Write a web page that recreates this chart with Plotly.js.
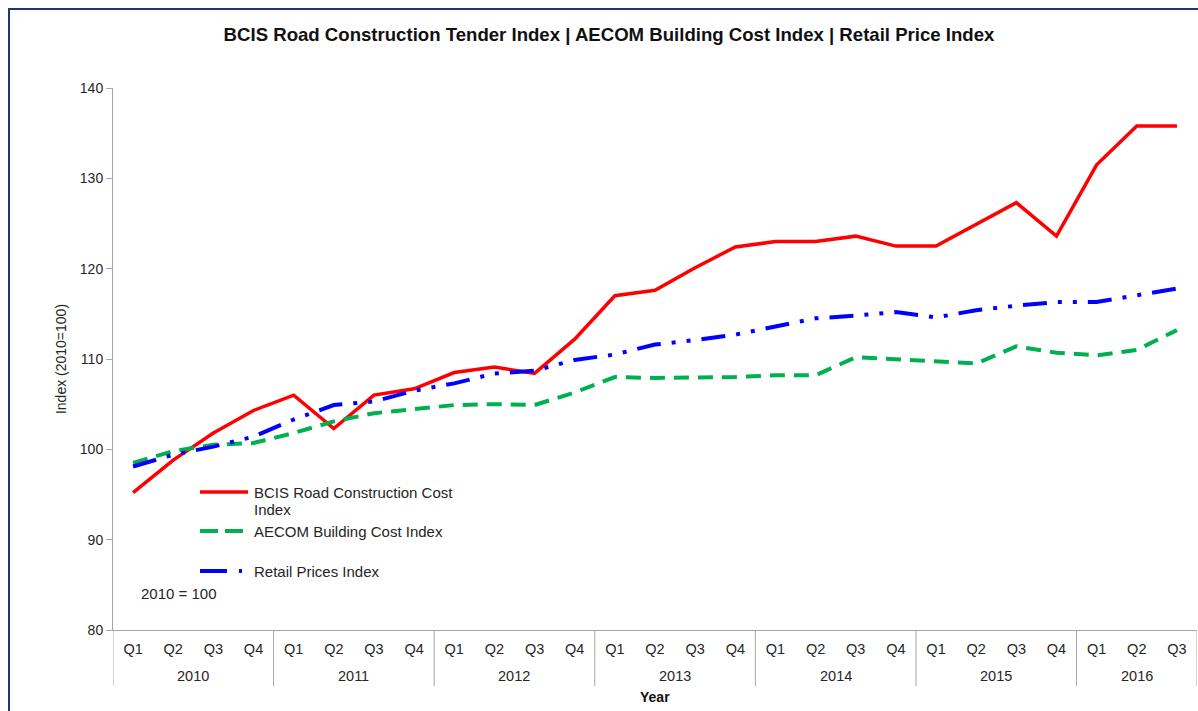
<!DOCTYPE html>
<html>
<head>
<meta charset="utf-8">
<script src="https://cdn.plot.ly/plotly-3.0.1.min.js"></script>
<style>
  html, body { margin: 0; padding: 0; background: #fff; }
  #chart { width: 1198px; height: 711px; }
</style>
</head>
<body>
<div id="chart"></div>
<script>
// ---- Data ----
const years = ['2010','2011','2012','2013','2014','2015','2016'];
const quarters = ['Q1','Q2','Q3','Q4'];
const quartersPerYear = [4, 4, 4, 4, 4, 4, 3]; // 2016 has Q1..Q3

const bcisRoad = [95.2, 98.8, 101.8, 104.3, 106.0, 102.3, 106.0, 106.7, 108.5, 109.1, 108.4, 112.2,
                  117.0, 117.6, 120.1, 122.4, 123.0, 123.0, 123.6, 122.5, 122.5, 124.9, 127.3, 123.6,
                  131.5, 135.8, 135.8];
const aecomBuilding = [98.5, 99.8, 100.5, 100.7, 101.8, 103.1, 104.0, 104.4, 104.9, 105.0, 104.9, 106.3,
                       108.0, 107.9, 107.9, 108.0, 108.2, 108.2, 110.2, 110.0, 109.8, 109.5, 111.4, 110.7,
                       110.4, 111.0, 113.2];
const retailPrices = [98.1, 99.4, 100.3, 101.4, 103.3, 104.9, 105.3, 106.5, 107.3, 108.4, 108.7, 109.9,
                      110.5, 111.6, 112.1, 112.7, 113.6, 114.5, 114.8, 115.2, 114.6, 115.4, 115.9, 116.3,
                      116.3, 117.1, 117.8];

const seriesNames = ['BCIS Road Construction Cost Index', 'AECOM Building Cost Index', 'Retail Prices Index'];
const legendLabels = ['BCIS Road Construction Cost<br>Index', 'AECOM Building Cost Index', 'Retail Prices Index'];
const titleText = 'BCIS Road Construction Tender Index | AECOM Building Cost Index | Retail Price Index';
const yTitle = 'Index (2010=100)';
const xTitle = 'Year';
const noteText = '2010 = 100';

// ---- Build category x (unique keys, quarter tick text) ----
const xKeys = [], xQuarter = [], groupStart = [];
years.forEach((y, i) => {
  groupStart.push(xKeys.length);
  for (let q = 0; q < quartersPerYear[i]; q++) { xKeys.push(y + ' ' + quarters[q]); xQuarter.push(quarters[q]); }
});
groupStart.push(xKeys.length);

const FONT = 'Arial, "Liberation Sans", sans-serif';
const TXT = '#262626';
const AX = '#A6A6A6';
const colors = ['#FF0000', '#00B050', '#0000FF'];
const dashes = ['solid', '15px,9px', '24px,11px,4px,11px,4px,11px'];
const legendDashes = ['solid', '18px,7px', '27px,12px,3px,20px'];
const widths = [3.5, 4, 4];
const values = [bcisRoad, aecomBuilding, retailPrices];

const traces = values.map((v, i) => ({
  type: 'scatter', mode: 'lines',
  x: xKeys, y: v,
  name: seriesNames[i],
  line: { color: colors[i], width: widths[i], dash: dashes[i] },
  showlegend: false,
  hoverinfo: 'skip'
}));

// ---- Geometry helpers (pixel -> paper) ----
const W = 1198, H = 711;
const M = { l: 113, r: 1, t: 88, b: 81 };
const PW = W - M.l - M.r, PH = H - M.t - M.b;
const px = x => (x - M.l) / PW;
const py = y => (H - M.b - y) / PH;

const shapes = [];
const annotations = [];

// Year group labels and dividers
years.forEach((y, i) => {
  annotations.push({
    xref: 'x', yref: 'paper', x: (groupStart[i] + groupStart[i + 1] - 1) / 2, y: py(676),
    xanchor: 'center', yanchor: 'middle', showarrow: false,
    text: y, font: { family: FONT, size: 14.5, color: TXT }
  });
});
groupStart.forEach(g => {
  shapes.push({
    type: 'line', xref: 'x', yref: 'paper',
    x0: g - 0.5, x1: g - 0.5, y0: 0, y1: py(686),
    line: { color: AX, width: 1 }
  });
});
// x axis title
annotations.push({
  xref: 'paper', yref: 'paper', x: px(655), y: py(697),
  xanchor: 'center', yanchor: 'middle', showarrow: false,
  text: '<b>' + xTitle + '</b>', font: { family: FONT, size: 14, color: '#111' }
});

// Manual legend
const legY = [492, 531, 571];
legY.forEach((y, i) => {
  shapes.push({
    type: 'line', xref: 'paper', yref: 'paper',
    x0: px(200), x1: px(248), y0: py(y), y1: py(y),
    line: { color: colors[i], width: widths[i], dash: legendDashes[i] }
  });
  legendLabels[i].split('<br>').forEach((line, k) => {
    annotations.push({
      xref: 'paper', yref: 'paper', x: px(252), y: py(y + 17 * k),
      xanchor: 'left', yanchor: 'middle', align: 'left', showarrow: false,
      text: line, font: { family: FONT, size: 15, color: TXT }
    });
  });
});
annotations.push({
  xref: 'paper', yref: 'paper', x: px(139), y: py(593),
  xanchor: 'left', yanchor: 'middle', showarrow: false,
  text: noteText, font: { family: FONT, size: 15, color: TXT }
});

// Outer border
shapes.push({
  type: 'rect', xref: 'paper', yref: 'paper',
  x0: px(9), x1: px(1240), y0: py(9), y1: py(760),
  line: { color: '#1F3864', width: 2 }, layer: 'below'
});

const layout = {
  width: W, height: H,
  margin: M,
  paper_bgcolor: '#fff', plot_bgcolor: '#fff',
  font: { family: FONT, size: 14, color: TXT },
  title: {
    text: '<b>' + titleText + '</b>',
    font: { family: FONT, size: 18.6, color: '#111' },
    xref: 'container', x: 609 / W, xanchor: 'center',
    yref: 'container', y: 1 - 34 / H, yanchor: 'middle'
  },
  xaxis: {
    type: 'category',
    range: [-0.5, xKeys.length - 0.5],
    tickmode: 'array', tickvals: xKeys, ticktext: xQuarter,
    showline: true, linecolor: AX, linewidth: 1,
    ticks: '', showgrid: false, zeroline: false,
    ticklabelstandoff: 6,
    tickfont: { family: FONT, size: 14.5, color: TXT }
  },
  yaxis: {
    range: [80, 140], dtick: 10, tick0: 80,
    ticks: 'outside', ticklen: 6, tickcolor: AX,
    showline: true, linecolor: AX, linewidth: 1,
    showgrid: false, zeroline: false,
    tickfont: { family: FONT, size: 14, color: TXT },
    title: { text: yTitle, font: { family: FONT, size: 14, color: TXT }, standoff: 9 }
  },
  shapes: shapes,
  annotations: annotations,
  showlegend: false
};

Plotly.newPlot('chart', traces, layout, { staticPlot: true, displayModeBar: false });
</script>
</body>
</html>
